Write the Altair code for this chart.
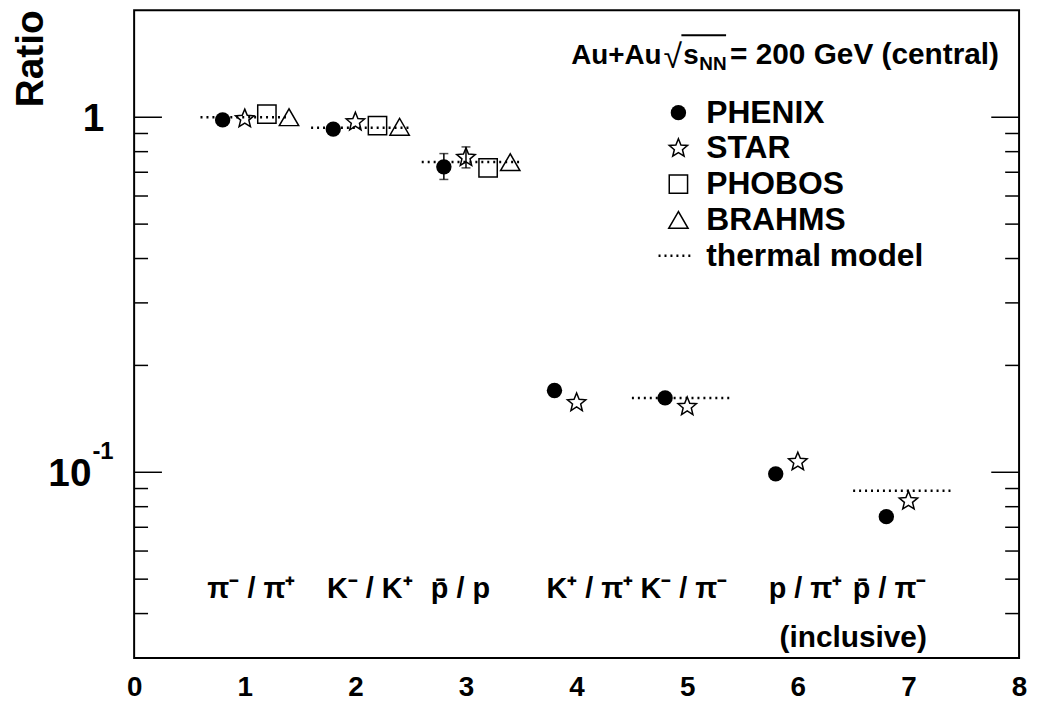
import altair as alt
import pandas as pd

# ---------------- data ----------------
phenix_x = [0.8, 1.8, 2.8, 3.8, 4.8, 5.8, 6.8]
phenix_y = [0.983, 0.926, 0.725, 0.170, 0.162, 0.099, 0.075]
star_x = [1.0, 2.0, 3.0, 4.0, 5.0, 6.0, 7.0]
star_y = [0.99, 0.97, 0.77, 0.157, 0.153, 0.107, 0.083]
phobos_x = [1.2, 2.2, 3.2]
phobos_y = [1.02, 0.947, 0.72]
brahms_x = [1.4, 2.4, 3.4]
brahms_y = [1.0, 0.94, 0.747]
err_x = [2.8, 3.0]
err_lo = [0.668, 0.72]
err_hi = [0.79, 0.825]
thermal_x1 = [0.6, 1.6, 2.6, 4.5, 6.5]
thermal_x2 = [1.4, 2.5, 3.5, 5.4, 7.4]
thermal_y = [1.0, 0.934, 0.748, 0.162, 0.0887]
ratio_labels = ["π⁻ / π⁺", "K⁻ / K⁺", "p\u0304 / p", "K⁺ / π⁺", "K⁻ / π⁻", "p / π⁺", "p\u0304 / π⁻"]
ratio_label_x = [1.06, 2.13, 2.95, 4.12, 4.97, 6.07, 6.83]
legend_names = ["PHENIX", "STAR", "PHOBOS", "BRAHMS", "thermal model"]
x_ticks = [0, 1, 2, 3, 4, 5, 6, 7, 8]
y_major = [0.1, 1.0]
y_minor = [0.03, 0.04, 0.05, 0.06, 0.07, 0.08, 0.09, 0.2, 0.3, 0.4, 0.5, 0.6, 0.7, 0.8, 0.9]

# ---------------- style ----------------
FONT = "Liberation Sans"
W, H = 891, 652
STAR_PATH = ("M0,-1L0.26,-0.36L0.951,-0.309L0.42,0.137L0.588,0.809L0,0.44"
             "L-0.588,0.809L-0.42,0.137L-0.951,-0.309L-0.26,-0.36Z")

xscale = alt.Scale(domain=[0, 8], nice=False, zero=False)
yscale = alt.Scale(type="log", domain=[0.03, 2], nice=False)
xaxis = alt.Axis(values=x_ticks, format="d", labelFont=FONT, labelFontSize=28,
                 labelFontWeight="bold", labelColor="black", ticks=False, domain=False,
                 grid=False, labelPadding=16, title=None, labelFlush=False)


def X(f):
    return alt.X(f, type="quantitative", scale=xscale, axis=xaxis)


def Y(f):
    return alt.Y(f, type="quantitative", scale=yscale, axis=None)


layers = []

# frame
layers.append(alt.Chart(pd.DataFrame({"t": ["frame"]}))
              .mark_rect(fill=None, stroke="black", strokeWidth=2)
              .encode(x=alt.value(0), x2=alt.value(W), y=alt.value(0), y2=alt.value(H)))

# thermal model lines
df_th = pd.DataFrame({"x1": thermal_x1, "x2": thermal_x2, "y": thermal_y})
layers.append(alt.Chart(df_th).mark_rule(color="black", strokeWidth=2.5, strokeDash=[2, 4])
              .encode(x=X("x1"), x2="x2", y=Y("y")))

# y-axis ticks drawn inward (left and right)
df_maj = pd.DataFrame({"v": y_major})
df_min = pd.DataFrame({"v": y_minor})
for df_t, ln in [(df_maj, 28), (df_min, 14)]:
    layers.append(alt.Chart(df_t).mark_rule(color="black", strokeWidth=1.5)
                  .encode(y=Y("v"), x=alt.value(0), x2=alt.value(ln)))
    layers.append(alt.Chart(df_t).mark_rule(color="black", strokeWidth=1.5)
                  .encode(y=Y("v"), x=alt.value(W - ln), x2=alt.value(W)))

# error bars
df_err = pd.DataFrame({"x": err_x, "lo": err_lo, "hi": err_hi})
layers.append(alt.Chart(df_err).mark_rule(color="black", strokeWidth=1.5)
              .encode(x=X("x"), y=Y("lo"), y2="hi"))
for f in ["lo", "hi"]:
    layers.append(alt.Chart(df_err).mark_tick(color="black", orient="horizontal", size=9, thickness=1.5)
                  .encode(x=X("x"), y=Y(f)))

# data points
series = [
    (phenix_x, phenix_y, "circle", True, 240),
    (star_x, star_y, STAR_PATH, False, 380),
    (phobos_x, phobos_y, "square", False, 340),
    (brahms_x, brahms_y, "triangle-up", False, 380),
]
LEG_X = 548
LEG_Y0, LEG_DY = 103, 36
for i, (xs, ys, shp, filled, sz) in enumerate(series):
    d = pd.DataFrame({"x": xs, "y": ys})
    layers.append(alt.Chart(d).mark_point(shape=shp, filled=filled, size=sz, color="black",
                                          strokeWidth=1.5, opacity=1)
                  .encode(x=X("x"), y=Y("y")))
    dl = pd.DataFrame({"name": [legend_names[i]]})
    layers.append(alt.Chart(dl).mark_point(shape=shp, filled=filled, size=sz, color="black",
                                           strokeWidth=1.5, opacity=1)
                  .encode(x=alt.value(LEG_X), y=alt.value(LEG_Y0 + LEG_DY * i)))

# legend: thermal model sample
dl = pd.DataFrame({"name": [legend_names[4]]})
layers.append(alt.Chart(dl).mark_rule(color="black", strokeWidth=2.5, strokeDash=[2, 4])
              .encode(x=alt.value(LEG_X - 20), x2=alt.value(LEG_X + 12),
                      y=alt.value(LEG_Y0 + LEG_DY * 4)))

# legend text
df_leg = pd.DataFrame({"name": legend_names, "row": list(range(len(legend_names)))})
layers.append(alt.Chart(df_leg).transform_calculate(py=f"{LEG_Y0} + {LEG_DY} * datum.row + 10")
              .mark_text(font=FONT, fontSize=32, fontWeight="bold", align="left",
                         baseline="alphabetic", color="black")
              .encode(x=alt.value(576), y=alt.Y("py:Q", scale=None), text="name:N"))

# ratio labels at the bottom
df_lab = pd.DataFrame({"t": ratio_labels, "x": ratio_label_x})
layers.append(alt.Chart(df_lab).mark_text(font=FONT, fontSize=29, fontWeight="bold", align="center",
                                          baseline="alphabetic", color="black")
              .encode(x=X("x"), y=alt.value(592), text="t:N"))
layers.append(alt.Chart(pd.DataFrame({"t": ["(inclusive)"], "x": [6.5]}))
              .mark_text(font=FONT, fontSize=30, fontWeight="bold", align="center",
                         baseline="alphabetic", color="black")
              .encode(x=X("x"), y=alt.value(641), text="t:N"))

# y-axis labels
layers.append(alt.Chart(pd.DataFrame({"v": [1.0], "t": ["1"]}))
              .mark_text(font=FONT, fontSize=39, fontWeight="bold", align="right", baseline="alphabetic",
                         dy=14, color="black")
              .encode(y=Y("v"), x=alt.value(-30), text="t:N"))
layers.append(alt.Chart(pd.DataFrame({"v": [0.1], "t": ["10"]}))
              .mark_text(font=FONT, fontSize=39, fontWeight="bold", align="right", baseline="alphabetic",
                         dy=14, color="black")
              .encode(y=Y("v"), x=alt.value(-43), text="t:N"))
layers.append(alt.Chart(pd.DataFrame({"v": [0.1], "t": ["-1"]}))
              .mark_text(font=FONT, fontSize=24, fontWeight="bold", align="left", baseline="alphabetic",
                         dy=-13, color="black")
              .encode(y=Y("v"), x=alt.value(-42), text="t:N"))
layers.append(alt.Chart(pd.DataFrame({"t": ["Ratio"]}))
              .mark_text(font=FONT, fontSize=39, fontWeight="bold", align="right", baseline="alphabetic",
                         angle=270, color="black")
              .encode(x=alt.value(-92), y=alt.value(0), text="t:N"))


# header text
def txt(t, x, y, size, align="left", weight="bold"):
    return (alt.Chart(pd.DataFrame({"t": [t]}))
            .mark_text(font=FONT, fontSize=size, fontWeight=weight, align=align, baseline="alphabetic",
                       color="black")
            .encode(x=alt.value(x), y=alt.value(y), text="t:N"))


layers.append(txt("Au+Au", 531, 54, 28, align="right"))
layers.append(txt("√", 533, 58, 34, weight="normal"))
layers.append(txt("s", 553, 54, 28))
layers.append(txt("NN", 569, 60, 19))
layers.append(txt("= 200 GeV (central)", 600, 54, 30))
layers.append(alt.Chart(pd.DataFrame({"t": ["bar"]})).mark_rule(color="black", strokeWidth=2)
              .encode(x=alt.value(551), x2=alt.value(596), y=alt.value(25)))

chart = (alt.layer(*layers)
         .properties(width=W, height=H, autosize=alt.AutoSizeParams(type="none"),
                     background="white",
                     padding={"left": 127, "top": 0, "right": 10, "bottom": 42})
         .configure_view(stroke=None))

chart.save("out.html", embed_options={"renderer": "svg", "actions": False})
